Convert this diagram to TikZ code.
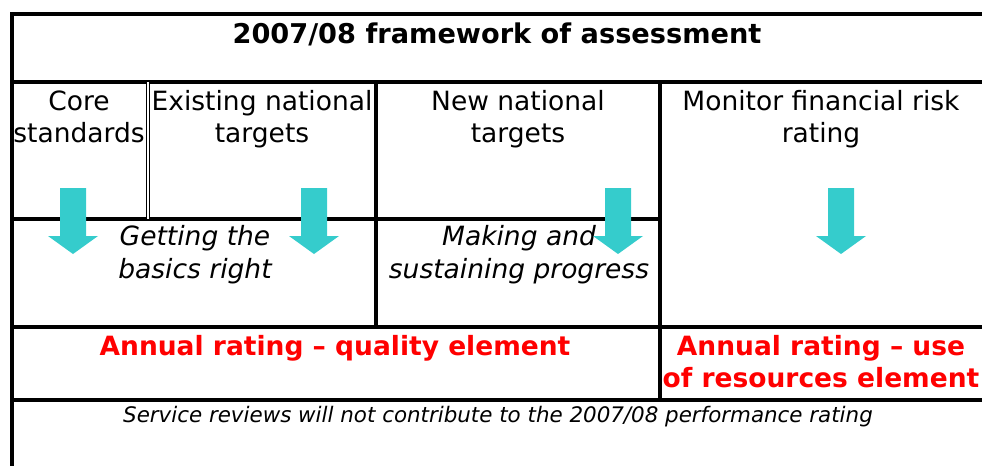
\documentclass[tikz,border=0pt]{standalone}
\usepackage{fontspec}
\setmainfont{DejaVu Sans}
\usetikzlibrary{calc}
\definecolor{fwteal}{HTML}{35CCCC}
\definecolor{fwred}{HTML}{FF0000}
\tikzset{
  fwgrid/.style={draw=black, line width=3.2pt},
  fwdbl/.style={draw=black, double, double distance=1.8pt, line width=1.1pt},
  fwtxt/.style={align=center, inner sep=0pt, anchor=base, font=\fontsize{26.5}{32}\selectfont},
  fwit/.style={fwtxt, font=\fontsize{26.5}{33}\selectfont\itshape},
  fwhead/.style={fwtxt, font=\fontsize{27.2}{32}\selectfont\bfseries},
  fwrate/.style={fwtxt, font=\fontsize{26.5}{32}\selectfont\bfseries, text=fwred},
  fwnote/.style={fwtxt, font=\fontsize{21.4}{24}\selectfont\itshape},
  fwarrow/.pic={\fill[fwteal] (-13,0) -- (13,0) -- (13,48) -- (25,48) -- (0,66) -- (-25,48) -- (-13,48) -- cycle;}
}

\begin{document}
\begin{tikzpicture}[x=1pt, y=-1pt]
\useasboundingbox (0,0) rectangle (982,466);

% grid of the table
\draw[fwgrid] (982,14) -- (12,14) -- (12,466);
\draw[fwgrid] (12,82) -- (982,82);
\draw[fwgrid] (12,219) -- (660,219);
\draw[fwgrid] (12,327) -- (982,327);
\draw[fwgrid] (12,400) -- (982,400);
\draw[fwgrid] (376,82) -- (376,327);
\draw[fwgrid] (660,82) -- (660,400);
\draw[fwdbl] (148,82) -- (148,219);

% texts (base = last line)
\node[fwhead] (ttl) at (497,43) {2007/08 framework of assessment};
\node[fwtxt] (core) at (79,142) {Core\\standards};
\node[fwtxt] (exist) at (262,142) {Existing national\\targets};
\node[fwtxt] (newt) at (518,142) {New national\\targets};
\node[fwtxt] (fin) at (821,142) {Monitor financial risk\\rating};
\node[fwit] (basics) at (195,278) {Getting the\\basics right};
\node[fwit] (progress) at (519,278) {Making and\\sustaining progress};
\node[fwrate] (qual) at (335,355) {Annual rating -- quality element};
\node[fwrate] (res) at (821,387) {Annual rating -- use\\of resources element};
\node[fwnote] (note) at (498,422) {Service reviews will not contribute to the 2007/08 performance rating};

% arrows
\pic at (73,188) {fwarrow};
\pic at (314,188) {fwarrow};
\pic at (618,188) {fwarrow};
\pic at (841,188) {fwarrow};

\end{tikzpicture}
\end{document}
